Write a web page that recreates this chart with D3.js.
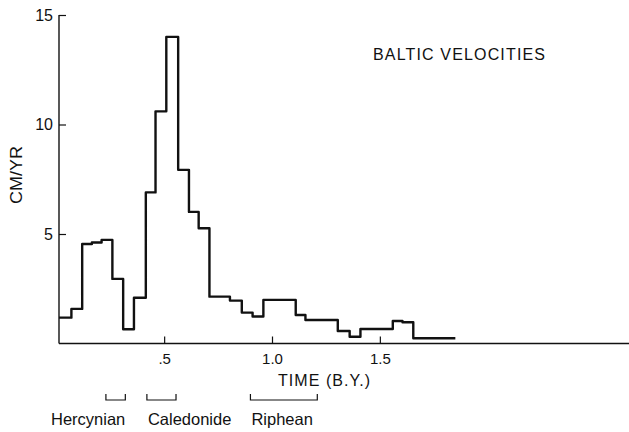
<!DOCTYPE html>
<html>
<head>
<meta charset="utf-8">
<script src="https://cdn.jsdelivr.net/npm/d3@7"></script>
<style>
  html, body { margin: 0; padding: 0; background: #fff; }
  svg text { font-family: "Liberation Sans", Arial, sans-serif; fill: #111; }
</style>
</head>
<body>
<svg id="chart" width="629" height="432"></svg>
<script>
// step edges, billions of years
const edges = [0.0125, 0.07, 0.12, 0.165, 0.21, 0.26, 0.31, 0.36, 0.415, 0.46,
  0.51, 0.565, 0.615, 0.66, 0.71, 0.805, 0.86, 0.91, 0.96, 1.11,
  1.155, 1.305, 1.36, 1.41, 1.56, 1.605, 1.655, 1.85];
// cm/yr in each interval
const velocities = [1.18, 1.58, 4.54, 4.61, 4.73, 2.95, 0.65, 2.09, 6.9, 10.6,
  14.0, 7.93, 6.01, 5.26, 2.14, 1.96, 1.41, 1.23, 1.99, 1.30,
  1.07, 0.57, 0.31, 0.66, 1.03, 0.97, 0.24];

const xTicks = [0.5, 1.0, 1.5];
const xTickLabels = ['.5', '1.0', '1.5'];
const yTicks = [5, 10, 15];

const orogenies = ['Hercynian', 'Caledonide', 'Riphean'];
const orogenyFrom = [0.23, 0.42, 0.90];
const orogenyTo   = [0.32, 0.555, 1.21];

const svg = d3.select('#chart');

const x = d3.scaleLinear().domain([0, 2.65]).range([56.3, 56.3 + 2.65 * 215.7]);
const y = d3.scaleLinear().domain([0, 15]).range([343.5, 15]);
const x0 = x(edges[0]);

// axes lines
svg.append('line')
  .attr('x1', x0).attr('x2', 629)
  .attr('y1', y(0)).attr('y2', y(0))
  .attr('stroke', '#111').attr('stroke-width', 1.4);
svg.append('line')
  .attr('x1', x0).attr('x2', x0)
  .attr('y1', y(0)).attr('y2', y(15))
  .attr('stroke', '#111').attr('stroke-width', 1.4);

const xAxis = svg.append('g')
  .attr('transform', `translate(0,${y(0)})`)
  .call(d3.axisBottom(x).tickValues(xTicks).tickSize(-7)
    .tickFormat((d, i) => xTickLabels[i]));
xAxis.select('.domain').remove();
xAxis.selectAll('line').attr('stroke', '#111').attr('stroke-width', 1.2);
xAxis.selectAll('text')
  .attr('y', 20).attr('dy', 0)
  .style('font-size', '15px').style('font-family', null);

const yAxis = svg.append('g')
  .attr('transform', `translate(${x0},0)`)
  .call(d3.axisLeft(y).tickValues(yTicks).tickSize(-7).tickPadding(6));
yAxis.select('.domain').remove();
yAxis.selectAll('line').attr('stroke', '#111').attr('stroke-width', 1.2);
yAxis.selectAll('text')
  .attr('dy', '0.33em')
  .style('font-size', '16px').style('font-family', null);

// velocity steps
const pts = velocities.map((v, i) => [edges[i], v]);
pts.push([edges[edges.length - 1], velocities[velocities.length - 1]]);

svg.append('path')
  .datum(pts)
  .attr('fill', 'none')
  .attr('stroke', '#111')
  .attr('stroke-width', 2.4)
  .attr('stroke-linejoin', 'round')
  .attr('d', d3.line().x(d => x(d[0])).y(d => y(d[1])).curve(d3.curveStepAfter));

// labels
svg.append('text')
  .attr('x', 373).attr('y', 59.5)
  .attr('textLength', 172).attr('lengthAdjust', 'spacing')
  .style('font-size', '16px')
  .text('BALTIC VELOCITIES');

svg.append('text')
  .attr('transform', 'translate(21.5,175) rotate(-90)')
  .attr('text-anchor', 'middle')
  .attr('textLength', 58).attr('lengthAdjust', 'spacingAndGlyphs')
  .style('font-size', '16px')
  .text('CM/YR');

svg.append('text')
  .attr('x', 278).attr('y', 385.5)
  .attr('textLength', 92).attr('lengthAdjust', 'spacing')
  .style('font-size', '16px')
  .text('TIME  (B.Y.)');

// orogeny brackets
const brk = svg.append('g');
orogenies.forEach((name, i) => {
  const a = x(orogenyFrom[i]), b = x(orogenyTo[i]);
  brk.append('path')
    .attr('d', `M${a},394V400H${b}V394`)
    .attr('fill', 'none')
    .attr('stroke', '#111')
    .attr('stroke-width', 1.2);
  brk.append('text')
    .attr('x', i === 0 ? b : a + 1)
    .attr('y', 425)
    .attr('text-anchor', i === 0 ? 'end' : 'start')
    .style('font-size', '16.5px')
    .text(name);
});
</script>
</body>
</html>
